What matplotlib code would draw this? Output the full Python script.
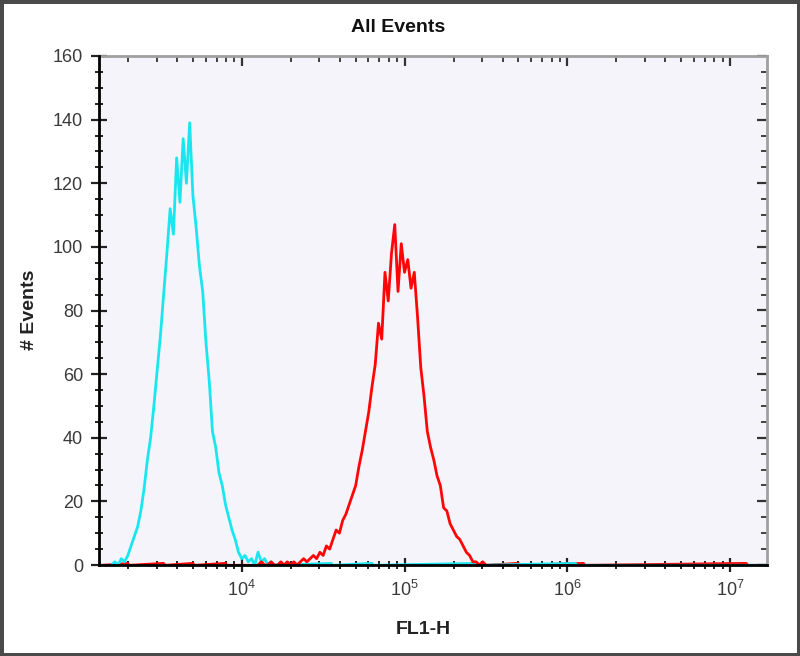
import numpy as np
import matplotlib
matplotlib.use('Agg')
import matplotlib.pyplot as plt
from matplotlib.ticker import LogLocator, MultipleLocator, NullFormatter, LogFormatterMathtext

plt.rcParams['font.family'] = ['Liberation Sans', 'DejaVu Sans']
plt.rcParams['mathtext.fontset'] = 'custom'
plt.rcParams['mathtext.rm'] = 'Liberation Sans'
plt.rcParams['mathtext.default'] = 'regular'

TITLE = 'All Events'
X_LABEL = 'FL1-H'
Y_LABEL = '# Events'

# channel positions are log10(FL1-H), one value every 0.02 decade
CYAN_LOG_START = 3.20
CYAN_COUNTS = [0, 1, 0, 2, 1, 3, 6, 9, 12, 17,
               24, 33, 40, 50, 61, 72, 85, 98, 112, 104,
               128, 114, 134, 120, 139, 116, 106, 94, 86, 70,
               58, 42, 37, 29, 25, 19, 15, 11, 8, 4,
               2, 3, 1, 2, 0, 4, 1, 2, 0, 1,
               0, 0]
RED_LOG_START = 4.10
RED_COUNTS = [0, 1, 0, 0, 1, 0, 0, 1, 0, 1,
              0, 1, 0, 1, 2, 1, 2, 3, 2, 4,
              3, 6, 5, 8, 11, 10, 14, 16, 19, 22,
              25, 31, 36, 42, 48, 56, 63, 76, 71, 92,
              83, 98, 107, 86, 101, 92, 96, 87, 92, 78,
              62, 53, 42, 37, 33, 28, 25, 18, 17, 13,
              11, 9, 8, 6, 4, 3, 1, 1, 0, 1,
              0]
LOG_STEP = 0.02

# sparse baseline readings outside the peaks (log10 position, count)
RED_TAIL_LEFT = [(3.15, 0), (3.30, 0.6), (3.31, 0), (3.52, 0.6), (3.53, 0),
                 (3.70, 0.6), (3.71, 0), (3.90, 0.6), (3.91, 0), (4.10, 0)]
RED_TAIL_RIGHT = [(5.50, 0), (5.70, 0.6), (5.71, 0), (6.10, 0.6), (6.11, 0),
                  (7.10, 0.6), (7.11, 0), (7.23, 0)]
CYAN_TAIL_RIGHT = [(4.22, 0), (4.55, 0.6), (4.56, 0), (4.80, 0.6), (4.81, 0),
                   (5.45, 0.6), (5.46, 0), (6.05, 0.6), (6.06, 0), (7.23, 0)]

X_MIN, X_MAX = 1327, 1.687e7
Y_MIN, Y_MAX = 0, 160

CYAN = '#1ae6f0'
RED = '#ff0505'


def series_x(start, counts):
    return 10 ** (start + LOG_STEP * np.arange(len(counts)))


def main():
    fig = plt.figure(figsize=(8, 6.56), dpi=100)
    fig.patch.set_facecolor('white')
    fig.patch.set_edgecolor('#4a4a4a')
    fig.patch.set_linewidth(5)

    ax = fig.add_axes([99 / 800, 91 / 656, 668 / 800, 509 / 656])
    ax.set_facecolor('#f4f4fa')

    for tail in (RED_TAIL_LEFT, RED_TAIL_RIGHT):
        ax.plot([10 ** p for p, _ in tail], [v for _, v in tail],
                color=RED, lw=1.6, zorder=2)
    ax.plot([10 ** p for p, _ in CYAN_TAIL_RIGHT], [v for _, v in CYAN_TAIL_RIGHT],
            color=CYAN, lw=1.6, zorder=2)

    ax.plot(series_x(CYAN_LOG_START, CYAN_COUNTS), CYAN_COUNTS,
            color=CYAN, lw=2.0, zorder=3)
    ax.plot(series_x(RED_LOG_START, RED_COUNTS), RED_COUNTS,
            color=RED, lw=2.0, zorder=3)

    ax.set_xscale('log')
    ax.set_xlim(X_MIN, X_MAX)
    ax.set_ylim(Y_MIN, Y_MAX)

    ax.xaxis.set_major_locator(LogLocator(base=10))
    ax.xaxis.set_major_formatter(LogFormatterMathtext())
    ax.xaxis.set_minor_locator(LogLocator(base=10, subs=np.arange(2, 10)))
    ax.xaxis.set_minor_formatter(NullFormatter())
    ax.yaxis.set_major_locator(MultipleLocator(20))
    ax.yaxis.set_minor_locator(MultipleLocator(5))

    for side in ('left', 'bottom'):
        ax.spines[side].set_color('black')
        ax.spines[side].set_linewidth(2)
        ax.spines[side].set_zorder(4)
    for side in ('top', 'right'):
        ax.spines[side].set_color('#a0a0a0')
        ax.spines[side].set_linewidth(2)

    ax.tick_params(axis='both', which='both', direction='inout', color='#222222',
                   labelcolor='#3a3a3a', labelsize=13)
    ax.tick_params(axis='y', which='major', length=11, width=1.6, pad=6)
    ax.tick_params(axis='y', which='minor', length=6, width=1.4)
    ax.tick_params(axis='x', which='major', length=10, width=1.6, pad=6)
    ax.tick_params(axis='x', which='minor', length=6, width=1.4)

    # inward ticks on the top and right frame
    top = ax.secondary_xaxis('top')
    top.xaxis.set_major_locator(LogLocator(base=10))
    top.xaxis.set_minor_locator(LogLocator(base=10, subs=np.arange(2, 10)))
    top.xaxis.set_major_formatter(NullFormatter())
    top.xaxis.set_minor_formatter(NullFormatter())
    top.spines['top'].set_visible(False)
    top.tick_params(which='both', direction='in', color='#333333')
    top.tick_params(which='major', length=7, width=1.6)
    top.tick_params(which='minor', length=4, width=1.3)

    right = ax.secondary_yaxis('right')
    right.yaxis.set_major_locator(MultipleLocator(20))
    right.yaxis.set_minor_locator(MultipleLocator(5))
    right.yaxis.set_major_formatter(NullFormatter())
    right.spines['right'].set_visible(False)
    right.tick_params(which='both', direction='in', color='#333333')
    right.tick_params(which='major', length=7, width=1.6)
    right.tick_params(which='minor', length=4, width=1.3)

    fig.text(398 / 800, 1 - 28 / 656, TITLE, ha='center', va='center',
             fontsize=14, fontweight='bold', color='#111111')
    fig.text(423 / 800, 1 - 630 / 656, X_LABEL, ha='center', va='center',
             fontsize=14, fontweight='bold', color='#222222')
    fig.text(30 / 800, 1 - 310 / 656, Y_LABEL, ha='center', va='center',
             rotation=90, fontsize=14, fontweight='bold', color='#222222')

    fig.savefig('out.png', dpi=100)


if __name__ == '__main__':
    main()
